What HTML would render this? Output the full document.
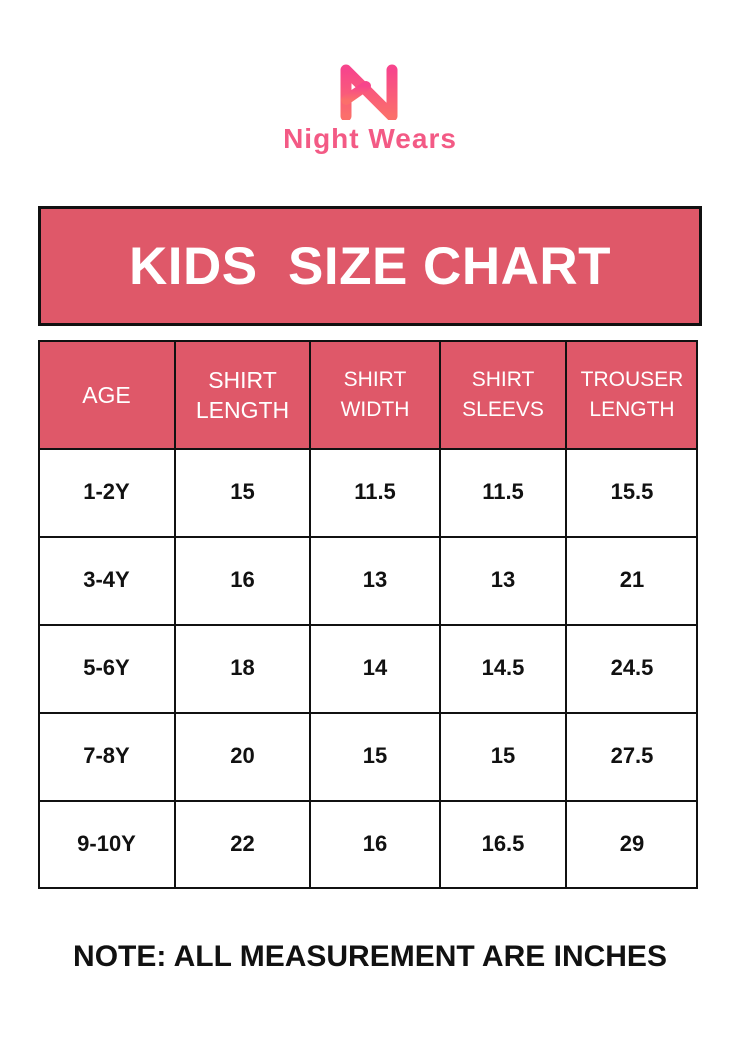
<!DOCTYPE html>
<html><head><meta charset="utf-8"><style>
body{margin:0;width:740px;height:1047px;background:#fff;position:relative;font-family:"Liberation Sans",sans-serif;overflow:hidden}
.t{position:absolute;left:38px;top:206px;width:658px;height:114px;border:3px solid #111;background:#df5869;color:#fff;font-weight:bold;font-size:53px;text-align:center;line-height:116px;letter-spacing:0.5px}
.cell{position:absolute;box-sizing:border-box;display:flex;align-items:center;justify-content:center;text-align:center}
.h{background:#df5869;color:#fff;font-size:23px;line-height:30px}
.d{color:#111;font-weight:bold;font-size:22px}
.v{position:absolute;background:#111;width:2px}
.hl{position:absolute;background:#111;height:2px;left:38px;width:660px}
.note{position:absolute;left:0;width:740px;top:940px;text-align:center;font-weight:bold;font-size:30px;color:#111}
</style></head><body>
<svg style="position:absolute;left:330px;top:60px" width="80" height="60" viewBox="0 0 80 60">
<defs><linearGradient id="g" x1="0" y1="0" x2="0" y2="1"><stop offset="0" stop-color="#f7458c"/><stop offset="1" stop-color="#fb6f6b"/></linearGradient></defs>
<path d="M16 56 V10 L62 56 V10" fill="none" stroke="url(#g)" stroke-width="11" stroke-linecap="round" stroke-linejoin="round"/>
<path d="M16 40 L36 26" stroke="url(#g)" stroke-width="10" stroke-linecap="round"/>
</svg>
<div style="position:absolute;left:0;width:740px;top:123px;text-align:center;font-size:28px;font-weight:bold;color:#f35a85;letter-spacing:1px">Night Wears</div>
<div class="t">KIDS&nbsp; SIZE CHART</div>
<div class="cell h" style="left:38px;top:341px;width:660px;height:108px"></div>
<div class="cell h" style="left:38px;top:341px;width:137px;height:108px">AGE</div>
<div class="cell h" style="left:175px;top:341px;width:135px;height:108px">SHIRT<br>LENGTH</div>
<div class="cell h" style="left:310px;top:341px;width:130px;height:108px;font-size:21px">SHIRT<br>WIDTH</div>
<div class="cell h" style="left:440px;top:341px;width:126px;height:108px;font-size:21px">SHIRT<br>SLEEVS</div>
<div class="cell h" style="left:566px;top:341px;width:132px;height:108px;font-size:21px">TROUSER<br>LENGTH</div>
<div class="hl" style="top:340px"></div>
<div class="hl" style="top:448px"></div>
<div class="hl" style="top:536px"></div>
<div class="hl" style="top:624px"></div>
<div class="hl" style="top:712px"></div>
<div class="hl" style="top:800px"></div>
<div class="hl" style="top:887px"></div>
<div class="v" style="left:38px;top:340px;height:549px"></div>
<div class="v" style="left:174px;top:340px;height:549px"></div>
<div class="v" style="left:309px;top:340px;height:549px"></div>
<div class="v" style="left:439px;top:340px;height:549px"></div>
<div class="v" style="left:565px;top:340px;height:549px"></div>
<div class="v" style="left:696px;top:340px;height:549px"></div>
<div class="cell d" style="left:38px;top:448px;width:137px;height:88px">1-2Y</div>
<div class="cell d" style="left:175px;top:448px;width:135px;height:88px">15</div>
<div class="cell d" style="left:310px;top:448px;width:130px;height:88px">11.5</div>
<div class="cell d" style="left:440px;top:448px;width:126px;height:88px">11.5</div>
<div class="cell d" style="left:566px;top:448px;width:132px;height:88px">15.5</div>
<div class="cell d" style="left:38px;top:536px;width:137px;height:88px">3-4Y</div>
<div class="cell d" style="left:175px;top:536px;width:135px;height:88px">16</div>
<div class="cell d" style="left:310px;top:536px;width:130px;height:88px">13</div>
<div class="cell d" style="left:440px;top:536px;width:126px;height:88px">13</div>
<div class="cell d" style="left:566px;top:536px;width:132px;height:88px">21</div>
<div class="cell d" style="left:38px;top:624px;width:137px;height:88px">5-6Y</div>
<div class="cell d" style="left:175px;top:624px;width:135px;height:88px">18</div>
<div class="cell d" style="left:310px;top:624px;width:130px;height:88px">14</div>
<div class="cell d" style="left:440px;top:624px;width:126px;height:88px">14.5</div>
<div class="cell d" style="left:566px;top:624px;width:132px;height:88px">24.5</div>
<div class="cell d" style="left:38px;top:712px;width:137px;height:88px">7-8Y</div>
<div class="cell d" style="left:175px;top:712px;width:135px;height:88px">20</div>
<div class="cell d" style="left:310px;top:712px;width:130px;height:88px">15</div>
<div class="cell d" style="left:440px;top:712px;width:126px;height:88px">15</div>
<div class="cell d" style="left:566px;top:712px;width:132px;height:88px">27.5</div>
<div class="cell d" style="left:38px;top:800px;width:137px;height:88px">9-10Y</div>
<div class="cell d" style="left:175px;top:800px;width:135px;height:88px">22</div>
<div class="cell d" style="left:310px;top:800px;width:130px;height:88px">16</div>
<div class="cell d" style="left:440px;top:800px;width:126px;height:88px">16.5</div>
<div class="cell d" style="left:566px;top:800px;width:132px;height:88px">29</div>
<div class="note">NOTE: ALL MEASUREMENT ARE INCHES</div>
</body></html>
